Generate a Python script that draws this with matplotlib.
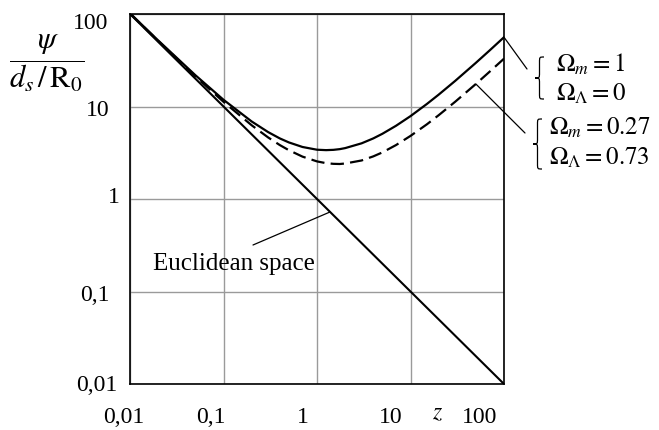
import matplotlib
matplotlib.use("Agg")
import matplotlib.pyplot as plt
import matplotlib.transforms as mtransforms
from matplotlib.path import Path
from matplotlib.patches import PathPatch

plt.rcParams['font.family'] = ['Liberation Serif', 'DejaVu Serif']
plt.rcParams['mathtext.fontset'] = 'stix'

# values
z = [0.01, 0.02, 0.05, 0.1, 0.2, 0.3, 0.4, 0.5, 0.7, 1, 1.25, 1.5, 1.75, 2,
     3, 4, 5, 7, 10, 15, 20, 30, 50, 70, 100]
psi_flat = [101.8, 51.8, 21.8, 11.82, 6.89, 5.29, 4.52, 4.09, 3.65, 3.41, 3.375,
            3.40, 3.46, 3.55, 4.00, 4.52, 5.07, 6.19, 7.87, 10.67, 13.43, 18.89,
            29.65, 40.28, 56.1]
psi_lcdm = [101.2, 51.2, 21.2, 11.23, 6.27, 4.63, 3.83, 3.37, 2.87, 2.55, 2.44,
            2.40, 2.39, 2.42, 2.61, 2.89, 3.19, 3.83, 4.81, 6.43, 8.05, 11.24,
            17.52, 23.73, 32.9]
z_euc = [0.01, 100]
psi_euc = [100, 0.01]

xticks = [0.01, 0.1, 1, 10, 100]
xlabels = ['0,01', '0,1', '1', '10', '100']
yticks = [0.01, 0.1, 1, 10, 100]
ylabels = ['0,01', '0,1', '1', '10', '100']

fig = plt.figure(figsize=(6.59, 4.31), dpi=100)
ax = fig.add_axes([0.1973, 0.1067, 0.5675, 0.8585])

ax.plot(z_euc, psi_euc, color='black', lw=1.5)
ax.plot(z, psi_flat, color='black', lw=1.6)
ax.plot(z, psi_lcdm, color='black', lw=1.6, dashes=(6, 2.8))

ax.set_xscale('log')
ax.set_yscale('log')
ax.set_xlim(0.01, 100)
ax.set_ylim(0.01, 100)
ax.set_xticks(xticks)
ax.set_xticklabels(xlabels)
ax.set_yticks(yticks)
ax.set_yticklabels(ylabels)
ax.minorticks_off()
ax.tick_params(length=0, labelsize=17, pad=13)
ax.tick_params(axis='x', pad=16)
ax.grid(True, color='#9a9a9a', lw=1.0)
for s in ax.spines.values():
    s.set_linewidth(1.2)
    s.set_color('black')

# labels sit a bit off their ticks in the original
xoff = [-6, -13, -14, -20, -24]
for lab, dx in zip(ax.get_xticklabels(), xoff):
    lab.set_transform(lab.get_transform() + mtransforms.ScaledTranslation(dx / 100, 0, fig.dpi_scale_trans))
yoff = [(5, 2), (-2, 0), (8, 5), (-2, 0), (-4, -6)]
for lab, (dx, dy) in zip(ax.get_yticklabels(), yoff):
    lab.set_transform(lab.get_transform() + mtransforms.ScaledTranslation(dx / 100, dy / 100, fig.dpi_scale_trans))

W, H = 659, 431
def px(x, y):
    return (x / W, 1 - y / H)

def brace(x, top, bot, w):
    # thin left curly brace, in pixel coords
    mid = (top + bot) / 2
    xm = x + w / 2
    q = w * 0.6
    verts = [px(x + w, top), px(xm, top), px(xm, top), px(xm, top + q),
             px(xm, mid - q), px(xm, mid), px(xm, mid), px(x, mid),
             px(xm, mid), px(xm, mid), px(xm, mid + q),
             px(xm, bot - q), px(xm, bot), px(xm, bot), px(x + w, bot)]
    codes = [Path.MOVETO, Path.CURVE4, Path.CURVE4, Path.CURVE4,
             Path.LINETO, Path.CURVE4, Path.CURVE4, Path.CURVE4,
             Path.CURVE4, Path.CURVE4, Path.CURVE4,
             Path.LINETO, Path.CURVE4, Path.CURVE4, Path.CURVE4]
    fig.patches.append(PathPatch(Path(verts, codes), transform=fig.transFigure,
                                 fill=False, lw=0.9, color='black'))

# axis titles
fig.text(*px(47, 64), r'$\dfrac{\psi}{d_s\,/\,\mathrm{R}_0}$', fontsize=22,
         ha='center', va='center')
fig.text(*px(438, 414), r'$z$', fontsize=17, ha='center', va='center')

# annotation lines
line = dict(arrowstyle='-', lw=0.9, color='black', shrinkA=0, shrinkB=0)
ax.annotate('', xy=(z[-1], psi_flat[-1]), xycoords='data',
            xytext=px(527, 70), textcoords='figure fraction', arrowprops=line)
ax.annotate('', xy=(z[-3], psi_lcdm[-3]), xycoords='data',
            xytext=px(525, 134), textcoords='figure fraction', arrowprops=line)
ax.annotate('', xy=(1.38, 1 / 1.38), xycoords='data',
            xytext=px(253, 246), textcoords='figure fraction', arrowprops=line)

fig.text(*px(234, 264), 'Euclidean space', fontsize=18, ha='center', va='center')

# parameter labels with braces
brace(535, 58, 100, 9)
fig.text(*px(556, 64), r'$\Omega_m = 1$', fontsize=18, ha='left', va='center')
fig.text(*px(556, 94), r'$\Omega_\Lambda = 0$', fontsize=18, ha='left', va='center')
brace(533, 120, 170, 9)
fig.text(*px(549, 128), r'$\Omega_m = 0.27$', fontsize=18, ha='left', va='center')
fig.text(*px(549, 158), r'$\Omega_\Lambda = 0.73$', fontsize=18, ha='left', va='center')

fig.savefig('out.png', dpi=100)
